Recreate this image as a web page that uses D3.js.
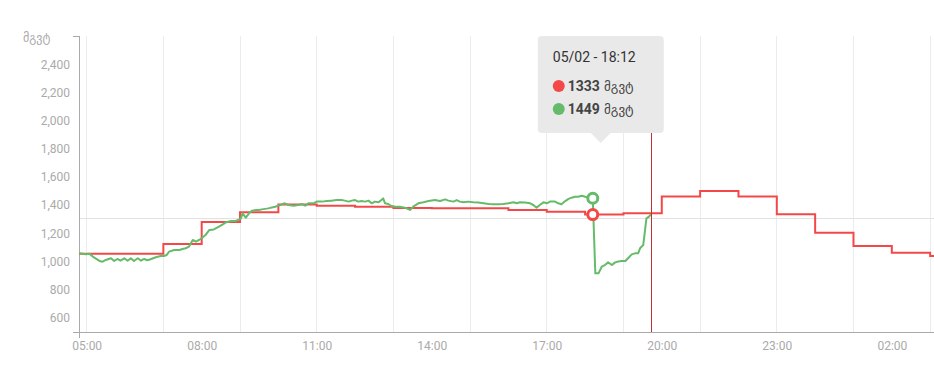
<!DOCTYPE html>
<html>
<head>
<meta charset="utf-8">
<script src="https://cdn.jsdelivr.net/npm/d3@7"></script>
<style>
  html, body { margin: 0; padding: 0; background: #fff; }
  svg { display: block; font-family: Roboto, "DejaVu Sans", sans-serif; }
</style>
</head>
<body>
<svg id="chart" width="934" height="366"></svg>
<script>
// ---------------- DATA ----------------
const unitLabel = "მგვტ";
const yTickValues = [600, 800, 1000, 1200, 1400, 1600, 1800, 2000, 2200, 2400];
const yDomain = [500, 2600];
const xDomainTimes = ["04:48", "03:06"];
const xTickLabels = ["05:00", "08:00", "11:00", "14:00", "17:00", "20:00", "23:00", "02:00"];
const gridTimes = ["05:00", "07:00", "09:00", "11:00", "13:00", "15:00", "17:00", "19:00", "21:00", "23:00", "01:00", "03:00"];

// red series (hourly plan, stepped)
const redTimes = ["04:48", "07:00", "08:00", "09:00", "10:00", "11:00", "12:00", "13:00", "14:00", "15:00", "16:00", "17:00", "18:00", "19:00", "20:00", "21:00", "22:00", "23:00", "00:00", "01:00", "02:00", "03:00", "03:06"];
const redValues = [1055, 1125, 1280, 1350, 1405, 1395, 1388, 1380, 1378, 1378, 1365, 1353, 1333, 1342, 1462, 1500, 1462, 1335, 1205, 1110, 1063, 1040, 1040];

// green series (actual)
const greenTimes = [
  "04:48","04:59","05:04","05:12","05:20","05:25","05:30","05:38","05:43","05:48","05:53","05:59",
  "06:04","06:09","06:14","06:20","06:25","06:30","06:35","06:40","06:46","06:51","06:56","07:01",
  "07:05","07:09","07:17","07:25","07:30","07:35","07:40","07:46","07:51","07:56","08:01","08:06",
  "08:12","08:19","08:27","08:33","08:38","08:46","08:53","09:01","09:04","09:09","09:14","09:19",
  "09:25","09:30","09:34","09:44","09:55","10:03","10:10","10:16","10:24","10:31","10:37","10:42",
  "10:47","10:55","11:00","11:08","11:16","11:23","11:31","11:39","11:44","11:50","11:55","12:00",
  "12:05","12:10","12:16","12:21","12:26","12:31","12:37","12:44","12:47","12:52","12:57","13:03",
  "13:10","13:18","13:26","13:31","13:39","13:47","13:55","14:05","14:13","14:21","14:26","14:34",
  "14:39","14:44","14:50","14:57","15:05","15:13","15:21","15:29","15:36","15:44","15:52","16:00",
  "16:08","16:13","16:18","16:26","16:34","16:39","16:44","16:49","16:55","17:00","17:05","17:13",
  "17:18","17:23","17:29","17:34","17:39","17:44","17:49","17:55","18:00","18:12","18:16","18:21",
  "18:26","18:31","18:36","18:42","18:47","18:52","18:57","19:03","19:08","19:13","19:18","19:23",
  "19:26","19:31","19:36","19:40","19:43"
];
const greenValues = [
  1058,1051,1056,1027,1004,999,1011,1023,1004,1018,1006,1023,
  1006,1023,1004,1023,1006,1018,1009,1016,1027,1034,1039,1039,
  1046,1070,1082,1082,1089,1094,1105,1153,1141,1153,1169,1188,
  1224,1228,1247,1264,1278,1288,1288,1302,1342,1311,1342,1361,
  1366,1366,1370,1377,1389,1401,1413,1401,1396,1401,1408,1396,
  1413,1413,1425,1425,1429,1432,1436,1436,1432,1425,1432,1436,
  1425,1429,1425,1432,1413,1425,1420,1448,1413,1408,1394,1389,
  1389,1382,1366,1389,1413,1420,1429,1436,1429,1441,1432,1425,
  1436,1425,1420,1425,1420,1418,1413,1408,1406,1406,1408,1413,
  1420,1413,1420,1418,1413,1401,1382,1401,1420,1413,1425,1425,
  1413,1406,1429,1444,1453,1460,1460,1467,1460,1449,916,916,
  963,975,994,975,994,1000,1004,1004,1027,1051,1058,1058,
  1094,1117,1306,1318,1335,1389
];

const tooltipDate = "05/02";
const tooltipTime = "18:12";
const tooltipRed = 1333;
const tooltipGreen = 1449;
const nowTime = "19:44";
const crosshairValue = 1302;

// ---------------- HELPERS ----------------
function t(s) {
  const [h, m] = s.split(":").map(Number);
  const d = new Date(2024, 4, 2, h, m);
  if (h < 4) d.setDate(d.getDate() + 1);
  return d;
}

const RED = "#f44848";
const GREEN = "#66bb6a";

const svg = d3.select("#chart");
const x = d3.scaleTime().domain(xDomainTimes.map(t)).range([79, 934]);
const y = d3.scaleLinear().domain(yDomain).range([332, 36]);

// vertical grid
svg.append("g").selectAll("line").data(gridTimes).join("line")
  .attr("x1", d => x(t(d))).attr("x2", d => x(t(d)))
  .attr("y1", y(yDomain[1])).attr("y2", y(yDomain[0]))
  .attr("stroke", "#ececec").attr("stroke-width", 1).attr("shape-rendering", "crispEdges");

// crosshair horizontal
svg.append("line")
  .attr("x1", x.range()[0]).attr("x2", x.range()[1])
  .attr("y1", y(crosshairValue)).attr("y2", y(crosshairValue))
  .attr("stroke", "#e2e2e2").attr("stroke-width", 1).attr("shape-rendering", "crispEdges");

// axes
const yAxis = d3.axisLeft(y).tickValues(yTickValues).tickSizeInner(0).tickSizeOuter(6).tickPadding(9)
  .tickFormat(d3.format(","));
const gy = svg.append("g").attr("transform", `translate(${x.range()[0]},0)`).call(yAxis);

const xAxis = d3.axisBottom(x).tickValues(xTickLabels.map(t)).tickSizeInner(0).tickSizeOuter(6).tickPadding(9)
  .tickFormat(d3.timeFormat("%H:%M"));
const gx = svg.append("g").attr("transform", `translate(0,${y.range()[0]})`).call(xAxis);

[gx, gy].forEach(g => {
  g.select(".domain").attr("stroke", "#aaa").attr("shape-rendering", "crispEdges");
  g.selectAll(".tick line").remove();
  g.selectAll("text").attr("fill", "#aaa").attr("font-size", 12).attr("font-family", "Roboto, sans-serif");
});

// unit label
svg.append("text").attr("x", 23).attr("y", 42)
  .attr("fill", "#aaa").attr("font-size", 12).attr("font-family", "'DejaVu Sans', sans-serif")
  .text(unitLabel);

// red stepped line
const redData = redTimes.map((s, i) => ({ t: t(s), v: redValues[i] }));
svg.append("path").datum(redData)
  .attr("fill", "none").attr("stroke", RED).attr("stroke-width", 2)
  .attr("d", d3.line().x(d => x(d.t)).y(d => y(d.v)).curve(d3.curveStepAfter));

// green line
const greenData = greenTimes.map((s, i) => ({ t: t(s), v: greenValues[i] }));
svg.append("path").datum(greenData)
  .attr("fill", "none").attr("stroke", GREEN).attr("stroke-width", 2).attr("stroke-linejoin", "round")
  .attr("d", d3.line().x(d => x(d.t)).y(d => y(d.v)));

// now line
svg.append("line")
  .attr("x1", x(t(nowTime))).attr("x2", x(t(nowTime)))
  .attr("y1", y(yDomain[1])).attr("y2", y(yDomain[0]))
  .attr("stroke", "#c0302f").attr("stroke-width", 1).attr("shape-rendering", "crispEdges");

// hover markers
const tm = t(tooltipTime);
const xm = x(tm);
svg.append("circle").attr("cx", xm).attr("cy", y(tooltipGreen)).attr("r", 5)
  .attr("fill", "#fff").attr("stroke", GREEN).attr("stroke-width", 3);
svg.append("circle").attr("cx", xm).attr("cy", y(tooltipRed)).attr("r", 5)
  .attr("fill", "#fff").attr("stroke", RED).attr("stroke-width", 3);

// tooltip
const tip = svg.append("g").attr("transform", `translate(${xm - 55},36)`);
tip.append("rect").attr("width", 126).attr("height", 97).attr("rx", 4).attr("fill", "#e9e9e9");
tip.append("path").attr("d", "M53,97 L63,107 L73,97 Z").attr("fill", "#e9e9e9");
tip.append("text").attr("x", 15).attr("y", 26).attr("font-size", 14).attr("fill", "#333")
  .attr("font-family", "Roboto, sans-serif")
  .text(`${tooltipDate} - ${tooltipTime}`);
[[tooltipRed, RED, 50], [tooltipGreen, GREEN, 73]].forEach(([v, c, cy]) => {
  tip.append("circle").attr("cx", 21).attr("cy", cy).attr("r", 6).attr("fill", c);
  const tx = tip.append("text").attr("x", 30).attr("y", cy + 5).attr("font-size", 14).attr("fill", "#444")
    .attr("font-family", "Roboto, 'DejaVu Sans', sans-serif");
  tx.append("tspan").attr("font-weight", "bold").text(v);
  tx.append("tspan").attr("font-family", "'DejaVu Sans', sans-serif").attr("font-size", 13).text(" " + unitLabel);
});
</script>
</body>
</html>
